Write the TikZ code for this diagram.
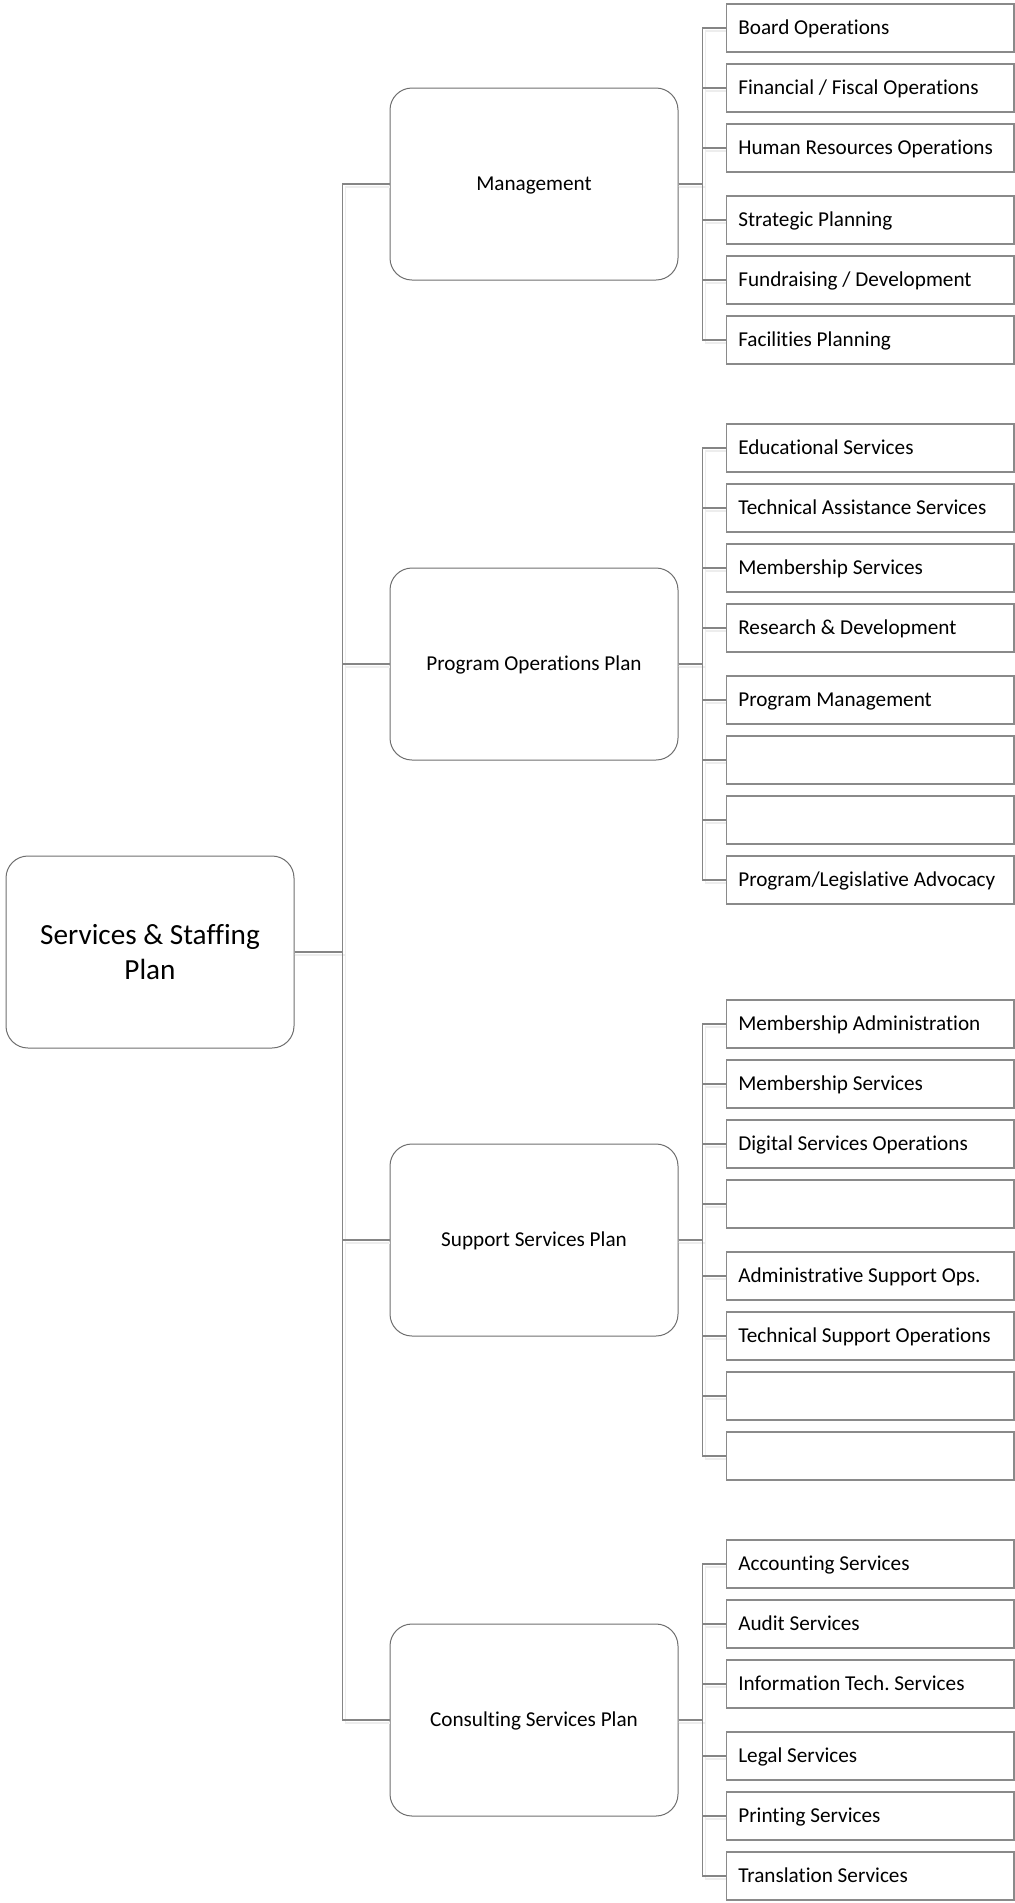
\documentclass[tikz,border=0pt]{standalone}
\usepackage{fontspec}
\setmainfont{Carlito}[Ligatures={NoCommon}]
\frenchspacing
\definecolor{lnc}{HTML}{858585}
\definecolor{bxc}{HTML}{6E6E6E}
\definecolor{lfc}{HTML}{8A8A8A}
\definecolor{shc}{HTML}{EDEDED}
\begin{document}
\begin{tikzpicture}[x=0.5pt,y=-0.5pt,
  conn/.style={draw=lnc, line width=0.6pt},
  faint/.style={draw=shc, line width=0.6pt},
  rootbox/.style={draw=bxc, line width=0.5pt, rounded corners=11pt, minimum width=144pt, minimum height=96pt, align=center, inner sep=0pt, font=\fontsize{14.6}{17.4}\selectfont},
  midbox/.style={draw=bxc, line width=0.5pt, rounded corners=11pt, minimum width=144pt, minimum height=96pt, align=center, inner sep=0pt, text height=6.83pt, text depth=0pt, font=\fontsize{10.6}{12.7}\selectfont},
  leaf/.style={draw=lfc, line width=0.7pt, minimum height=24pt, text width=131.8pt, inner xsep=5.95pt, inner ysep=0pt, align=flush left, anchor=west, text height=6.83pt, text depth=0pt, font=\fontsize{10.6}{12.7}\selectfont}]
\useasboundingbox (0,0) rectangle (1014,1903);

% root and second level
\node[rootbox] (root) at (150,952) {Services \& Staffing\\Plan};
\node[midbox] (m1) at (534,184) {Management};
\node[midbox] (m2) at (534,664) {Program Operations Plan};
\node[midbox] (m3) at (534,1240) {Support Services Plan};
\node[midbox] (m4) at (534,1720) {Consulting Services Plan};

% leaves: Management
\node[leaf] (a1) at (725.7,28) {Board Operations};
\node[leaf] (a2) at (725.7,88) {Financial / Fiscal Operations};
\node[leaf] (a3) at (725.7,148) {Human Resources Operations};
\node[leaf] (a4) at (725.7,220) {Strategic Planning};
\node[leaf] (a5) at (725.7,280) {Fundraising / Development};
\node[leaf] (a6) at (725.7,340) {Facilities Planning};
% leaves: Program Operations
\node[leaf] (b1) at (725.7,448) {Educational Services};
\node[leaf] (b2) at (725.7,508) {Technical Assistance Services};
\node[leaf] (b3) at (725.7,568) {Membership Services};
\node[leaf] (b4) at (725.7,628) {Research \& Development};
\node[leaf] (b5) at (725.7,700) {Program Management};
\node[leaf] (b6) at (725.7,760) {};
\node[leaf] (b7) at (725.7,820) {};
\node[leaf] (b8) at (725.7,880) {Program/Legislative Advocacy};
% leaves: Support Services
\node[leaf] (c1) at (725.7,1024) {Membership Administration};
\node[leaf] (c2) at (725.7,1084) {Membership Services};
\node[leaf] (c3) at (725.7,1144) {Digital Services Operations};
\node[leaf] (c4) at (725.7,1204) {};
\node[leaf] (c5) at (725.7,1276) {Administrative Support Ops.};
\node[leaf] (c6) at (725.7,1336) {Technical Support Operations};
\node[leaf] (c7) at (725.7,1396) {};
\node[leaf] (c8) at (725.7,1456) {};
% leaves: Consulting Services
\node[leaf] (d1) at (725.7,1564) {Accounting Services};
\node[leaf] (d2) at (725.7,1624) {Audit Services};
\node[leaf] (d3) at (725.7,1684) {Information Tech. Services};
\node[leaf] (d4) at (725.7,1756) {Legal Services};
\node[leaf] (d5) at (725.7,1816) {Printing Services};
\node[leaf] (d6) at (725.7,1876) {Translation Services};

% faint shadow of connectors
\foreach \m in {m1,m2,m3,m4}
  \draw[faint] ([shift={(0,3)}]root.east) -- ++(51,0) |- ([shift={(0,3)}]\m.west);
\foreach \l in {a1,a2,a3,a4,a5,a6}
  \draw[faint] ([shift={(0,3)}]m1.east) -- ++(27,0) |- ([shift={(0,3)}]\l.west);
\foreach \l in {b1,b2,b3,b4,b5,b6,b7,b8}
  \draw[faint] ([shift={(0,3)}]m2.east) -- ++(27,0) |- ([shift={(0,3)}]\l.west);
\foreach \l in {c1,c2,c3,c4,c5,c6,c7,c8}
  \draw[faint] ([shift={(0,3)}]m3.east) -- ++(27,0) |- ([shift={(0,3)}]\l.west);
\foreach \l in {d1,d2,d3,d4,d5,d6}
  \draw[faint] ([shift={(0,3)}]m4.east) -- ++(27,0) |- ([shift={(0,3)}]\l.west);

% connectors
\foreach \m in {m1,m2,m3,m4}
  \draw[conn] (root.east) -- ++(48,0) |- (\m.west);
\foreach \l in {a1,a2,a3,a4,a5,a6}
  \draw[conn] (m1.east) -- ++(24.3,0) |- (\l.west);
\foreach \l in {b1,b2,b3,b4,b5,b6,b7,b8}
  \draw[conn] (m2.east) -- ++(24.3,0) |- (\l.west);
\foreach \l in {c1,c2,c3,c4,c5,c6,c7,c8}
  \draw[conn] (m3.east) -- ++(24.3,0) |- (\l.west);
\foreach \l in {d1,d2,d3,d4,d5,d6}
  \draw[conn] (m4.east) -- ++(24.3,0) |- (\l.west);
\end{tikzpicture}
\end{document}
